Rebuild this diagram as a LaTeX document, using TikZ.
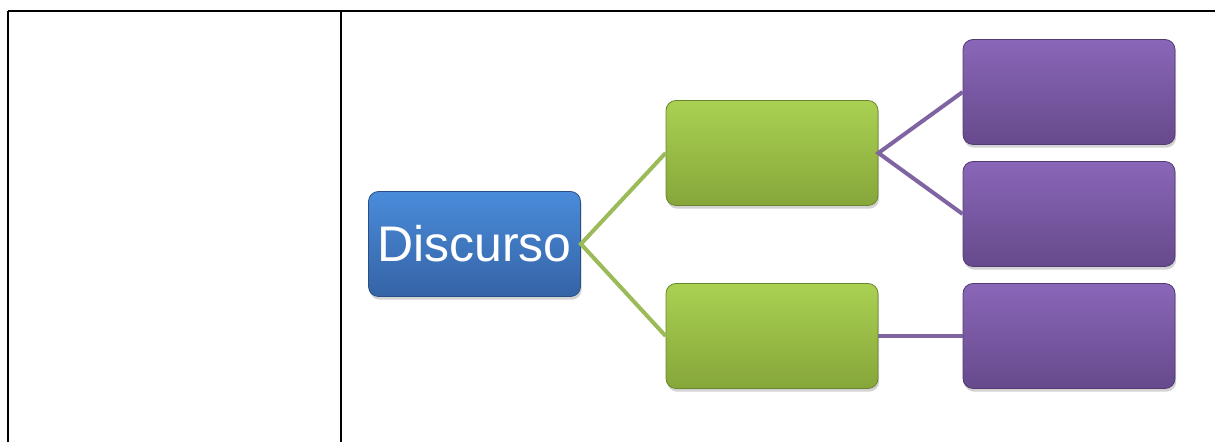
\documentclass[tikz,border=0pt]{standalone}
\usepackage{fontspec}
\setmainfont{Liberation Sans}
\usepackage{xcolor}
\usetikzlibrary{shadows}

\definecolor{blueTop}{HTML}{4A8CDA}
\definecolor{blueBot}{HTML}{3563A6}
\definecolor{greenTop}{HTML}{AAD152}
\definecolor{greenBot}{HTML}{86A63A}
\definecolor{purpleTop}{HTML}{8A66B8}
\definecolor{purpleBot}{HTML}{664A8C}
\definecolor{greenLine}{HTML}{9BBB59}
\definecolor{purpleLine}{HTML}{8064A2}

\begin{document}
\begin{tikzpicture}[x=0.5pt,y=-0.5pt,
	box/.style={rounded corners=5pt, minimum width=106pt, minimum height=52.5pt, inner sep=0pt,
		line width=0.4pt, drop shadow={opacity=0.35,shadow xshift=0.6pt,shadow yshift=-1.6pt}},
	bluebox/.style={box, draw=blueBot!80!black, top color=blueTop, bottom color=blueBot},
	greenbox/.style={box, draw=greenBot!80!black, top color=greenTop, bottom color=greenBot},
	purplebox/.style={box, draw=purpleBot!80!black, top color=purpleTop, bottom color=purpleBot}]
	\useasboundingbox (0,0) rectangle (1215,442);
	% table rules
	\draw[black, line width=1.2pt] (8,11) -- (1215,11);
	\draw[black, line width=1.2pt] (8,11) -- (8,442);
	\draw[black, line width=1.2pt] (341,11) -- (341,442);
	% boxes
	\node[bluebox, text=white, font=\fontsize{25}{30}\selectfont] (disc) at (474.5,244) {Discurso};
	\node[greenbox] (gA) at (772,153) {};
	\node[greenbox] (gB) at (772,336) {};
	\node[purplebox] (pA) at (1069,92) {};
	\node[purplebox] (pB) at (1069,214) {};
	\node[purplebox] (pC) at (1069,336) {};
	% connectors
	\draw[greenLine, line width=2pt] (gA.west) -- (disc.east) -- (gB.west);
	\draw[purpleLine, line width=2pt] (pA.west) -- (gA.east) -- (pB.west);
	\draw[purpleLine, line width=2pt] (gB.east) -- (pC.west);
\end{tikzpicture}
\end{document}
